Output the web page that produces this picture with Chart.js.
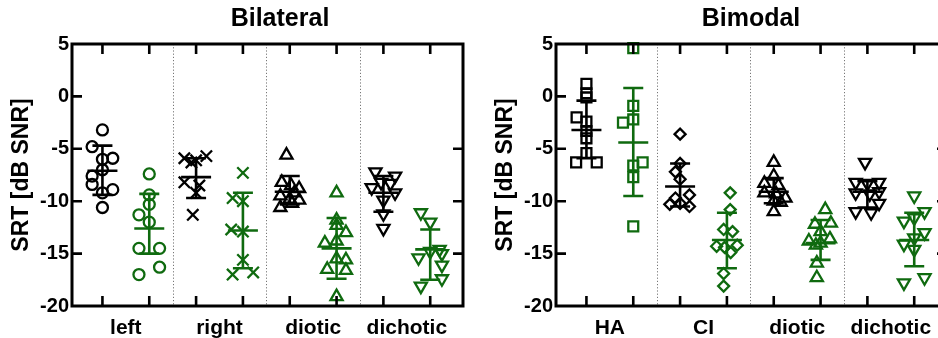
<!DOCTYPE html>
<html><head><meta charset="utf-8">
<script src="https://cdn.jsdelivr.net/npm/chart.js@4/dist/chart.umd.min.js"></script>
<style>
html,body{margin:0;padding:0;width:938px;height:338px;overflow:hidden;background:#fff;}
#w1{position:absolute;left:0;top:0;width:560px;height:338px;}
#w2{position:absolute;left:484px;top:0;width:534px;height:338px;}
</style></head><body>
<div id="w1"><canvas id="c1"></canvas></div>
<div id="w2"><canvas id="c2"></canvas></div>
<script>
// ---------- DATA ----------
const titleLeft = 'Bilateral';
const titleRight = 'Bimodal';
const yTitle = 'SRT [dB SNR]';
const catsBilateral = ['left', 'right', 'diotic', 'dichotic'];
const catsBimodal = ['HA', 'CI', 'diotic', 'dichotic'];
const yTicks = [5, 0, -5, -10, -15, -20];

// Bilateral individual points (value) and horizontal jitter (category units)
const bilLeftA = [-3.2, -4.8, -5.9, -6.0, -7.0, -7.6, -8.4, -8.9, -9.2, -10.6];
const bilLeftAJ = [0, -0.22, 0.22, 0, 0, -0.22, -0.22, 0.22, 0, 0];
const bilLeftB = [-7.4, -9.4, -10.3, -11.3, -12.0, -14.5, -14.5, -16.3, -17.0];
const bilLeftBJ = [0, 0, 0, -0.22, 0, -0.22, 0.22, 0.22, -0.22];
const bilRightA = [-5.7, -5.9, -6.1, -6.3, -8.2, -8.5, -9.2, -11.3];
const bilRightAJ = [0.22, -0.25, 0, -0.1, -0.25, 0.07, 0, -0.07];
const bilRightB = [-7.3, -9.7, -10.0, -12.7, -12.9, -15.6, -16.8, -17.0];
const bilRightBJ = [0, -0.22, 0, -0.25, 0, 0, 0.22, -0.22];
const bilDioticA = [-5.6, -8.2, -8.5, -8.8, -9.2, -9.5, -9.8, -9.9, -10.2, -10.6];
const bilDioticAJ = [-0.07, -0.17, 0.03, 0.2, 0.1, -0.2, 0, 0.2, 0.05, -0.2];
const bilDioticB = [-9.2, -11.8, -12.3, -13.0, -13.8, -14.0, -15.5, -15.6, -16.5, -16.6, -19.1];
const bilDioticBJ = [0, 0, 0, 0.2, 0, -0.25, 0, 0.2, -0.2, 0.2, 0];
const bilDichA = [-7.2, -7.6, -8.2, -8.3, -8.7, -9.2, -9.9, -11.2, -12.6];
const bilDichAJ = [-0.17, 0.25, -0.05, 0.15, -0.25, 0.25, 0, 0, 0];
const bilDichB = [-11.1, -12.0, -14.6, -14.8, -15.0, -15.4, -16.1, -17.4, -18.1];
const bilDichBJ = [-0.2, 0, 0.2, 0, 0.25, -0.25, 0.25, 0.25, -0.2];
// Bilateral summary (centre line and whiskers) per position 0..7
const bilCenter = [-7.1, -12.6, -7.7, -12.8, -9.1, -14.5, -9.2, -14.6];
const bilLow = [-9.4, -15.0, -9.7, -16.4, -10.3, -17.4, -11.0, -17.5];
const bilHigh = [-4.7, -9.3, -5.9, -9.2, -7.6, -11.6, -7.6, -12.7];

// Bimodal individual points
const bimHAA = [1.2, 0.3, -0.1, -2.0, -2.4, -3.3, -4.0, -5.4, -6.3, -6.3];
const bimHAAJ = [0, 0, 0, -0.21, 0, 0, 0, 0, -0.22, 0.22];
const bimHAB = [4.6, -0.9, -2.2, -2.5, -6.3, -6.6, -7.7, -12.4];
const bimHABJ = [0, 0, 0, -0.22, 0.2, 0, 0, 0];
const bimCIA = [-3.6, -6.4, -7.2, -7.9, -9.4, -9.7, -10.2, -10.3, -10.5];
const bimCIAJ = [0, 0, -0.1, 0, 0.2, -0.1, 0, -0.22, 0.2];
const bimCIB = [-9.2, -10.8, -12.7, -12.9, -14.2, -14.3, -14.4, -14.9, -16.9, -18.1];
const bimCIBJ = [0.07, 0.07, -0.07, 0.12, 0.22, -0.22, -0.05, 0.08, -0.07, -0.07];
const bimDioticA = [-6.3, -7.6, -8.3, -8.5, -9.2, -9.3, -9.7, -10.0, -10.1, -11.0];
const bimDioticAJ = [0, 0, -0.2, 0.1, -0.2, 0.05, 0.25, 0, 0.15, 0];
const bimDioticB = [-10.8, -12.1, -12.2, -12.9, -13.6, -13.8, -14.0, -14.2, -15.9, -17.3];
const bimDioticBJ = [0.1, 0.22, -0.12, 0, 0.2, -0.25, 0, -0.1, -0.08, -0.08];
const bimDichA = [-6.3, -8.2, -8.3, -8.2, -9.2, -9.3, -9.1, -10.2, -11.0, -11.1];
const bimDichAJ = [-0.05, -0.25, 0, 0.25, -0.25, 0.05, 0.25, 0.25, -0.25, 0.08];
const bimDichB = [-9.5, -11.0, -11.6, -11.9, -13.0, -13.5, -14.1, -14.6, -17.3, -17.8];
const bimDichBJ = [0, 0.22, 0, -0.22, 0.22, 0, -0.22, 0, 0.22, -0.22];
const bimCenter = [-3.2, -4.4, -8.6, -13.7, -9.1, -14.0, -9.1, -13.7];
const bimLow = [-5.9, -9.5, -10.5, -16.4, -10.2, -15.6, -10.6, -16.2];
const bimHigh = [-0.4, 0.8, -6.4, -11.1, -7.8, -11.8, -8.1, -11.1];

// ---------- STYLE ----------
const BLACK = '#000000';
const GREEN = '#0f6a0f';
const FONT = '"Liberation Sans", Arial, Helvetica, sans-serif';
Chart.defaults.font.family = FONT;
Chart.defaults.color = '#000';

function ds(vals, jit, pos, color, style, radius, rotation) {
  return {
    data: vals.map((v, i) => ({ x: pos + jit[i], y: v })),
    borderColor: color, backgroundColor: 'rgba(0,0,0,0)',
    pointStyle: style, pointRadius: radius, pointRotation: rotation || 0,
    pointBorderWidth: 2.3, pointHoverRadius: radius, showLine: false, clip: false
  };
}

const framePlugin = {
  id: 'frame',
  beforeDatasetsDraw(chart) {
    const { ctx, chartArea: a, scales: { x } } = chart;
    ctx.save();
    ctx.strokeStyle = '#777'; ctx.lineWidth = 1; ctx.setLineDash([1.2, 2]);
    [1.5, 3.5, 5.5].forEach(s => {
      const px = Math.round(x.getPixelForValue(s)) + 0.5;
      ctx.beginPath(); ctx.moveTo(px, a.top); ctx.lineTo(px, a.bottom); ctx.stroke();
    });
    ctx.restore();
  },
  afterDatasetsDraw(chart, args, opts) {
    const { ctx, scales: { x, y } } = chart;
    ctx.save();
    ctx.lineWidth = 2.6; ctx.setLineDash([]);
    opts.center.forEach((c, i) => {
      const col = i % 2 === 0 ? BLACK : GREEN;
      const px = x.getPixelForValue(i);
      const pc = y.getPixelForValue(c), pl = y.getPixelForValue(opts.low[i]), ph = y.getPixelForValue(opts.high[i]);
      ctx.strokeStyle = col;
      ctx.beginPath();
      ctx.moveTo(px, ph); ctx.lineTo(px, pl);
      ctx.moveTo(px - 10, ph); ctx.lineTo(px + 10, ph);
      ctx.moveTo(px - 10, pl); ctx.lineTo(px + 10, pl);
      ctx.moveTo(px - 15, pc); ctx.lineTo(px + 15, pc);
      ctx.stroke();
    });
    ctx.restore();
  },
  afterDraw(chart) {
    const { ctx, chartArea: a, scales: { x, y } } = chart;
    ctx.save();
    ctx.strokeStyle = '#000'; ctx.lineWidth = 3; ctx.setLineDash([]);
    ctx.strokeRect(a.left, a.top, a.right - a.left, a.bottom - a.top);
    ctx.lineWidth = 2.6;
    ctx.beginPath();
    for (let i = 0; i < 8; i++) {
      const px = x.getPixelForValue(i);
      ctx.moveTo(px, a.bottom); ctx.lineTo(px, a.bottom - 10);
      ctx.moveTo(px, a.top); ctx.lineTo(px, a.top + 10);
    }
    [0, -5, -10, -15].forEach(v => {
      const py = y.getPixelForValue(v);
      ctx.moveTo(a.left, py); ctx.lineTo(a.left + 10, py);
    });
    [-5, -10, -15].forEach(v => {
      const py = y.getPixelForValue(v);
      ctx.moveTo(a.right, py); ctx.lineTo(a.right - 10, py);
    });
    ctx.stroke();
    ctx.restore();
  }
};

function makeChart(id, title, cats, datasets, center, low, high, rightSpace) {
  return new Chart(document.getElementById(id), {
    type: 'scatter',
    data: { datasets },
    plugins: [framePlugin],
    options: {
      responsive: true, maintainAspectRatio: false, animation: false,
      layout: { padding: 0 },
      events: [],
      plugins: {
        legend: { display: false }, tooltip: { enabled: false },
        title: { display: true, text: title, color: '#000', font: { size: 25, weight: 'bold' }, padding: { top: 4, bottom: 10 } },
        frame: { center, low, high }
      },
      scales: {
        x: {
          type: 'linear', min: -0.65, max: 7.7,
          grid: { display: false, drawTicks: false }, border: { display: false },
          afterBuildTicks: s => { s.ticks = [0.5, 2.5, 4.5, 6.5].map(v => ({ value: v })); },
          afterFit: s => { s.height = 32; },
          ticks: { autoSkip: false, maxRotation: 0, padding: 10, color: '#000', font: { size: 21, weight: 'bold' },
            callback: v => cats[Math.round((v - 0.5) / 2)] }
        },
        y: {
          min: -20, max: 5,
          grid: { display: false, drawTicks: false }, border: { display: false },
          afterBuildTicks: s => { s.ticks = yTicks.map(v => ({ value: v })); },
          afterFit: s => { s.width = 72; },
          ticks: { padding: 3, color: '#000', font: { size: 20, weight: 'bold' } },
          title: { display: true, text: yTitle, color: '#000', font: { size: 23, weight: 'bold' }, padding: { top: 8, bottom: 0 } }
        },
        yr: {
          position: 'right', min: 0, max: 1,
          grid: { display: false, drawTicks: false }, border: { display: false },
          ticks: { display: false },
          afterFit: s => { s.width = rightSpace; }
        }
      }
    }
  });
}

const bilData = [
  ds(bilLeftA, bilLeftAJ, 0, BLACK, 'circle', 5.5),
  ds(bilLeftB, bilLeftBJ, 1, GREEN, 'circle', 5.5),
  ds(bilRightA, bilRightAJ, 2, BLACK, 'crossRot', 8),
  ds(bilRightB, bilRightBJ, 3, GREEN, 'crossRot', 8),
  ds(bilDioticA, bilDioticAJ, 4, BLACK, 'triangle', 7),
  ds(bilDioticB, bilDioticBJ, 5, GREEN, 'triangle', 7),
  ds(bilDichA, bilDichAJ, 6, BLACK, 'triangle', 7, 180),
  ds(bilDichB, bilDichBJ, 7, GREEN, 'triangle', 7, 180)
];
const bimData = [
  ds(bimHAA, bimHAAJ, 0, BLACK, 'rect', 7),
  ds(bimHAB, bimHABJ, 1, GREEN, 'rect', 7),
  ds(bimCIA, bimCIAJ, 2, BLACK, 'rectRot', 5.5),
  ds(bimCIB, bimCIBJ, 3, GREEN, 'rectRot', 5.5),
  ds(bimDioticA, bimDioticAJ, 4, BLACK, 'triangle', 7),
  ds(bimDioticB, bimDioticBJ, 5, GREEN, 'triangle', 7),
  ds(bimDichA, bimDichAJ, 6, BLACK, 'triangle', 7, 180),
  ds(bimDichB, bimDichBJ, 7, GREEN, 'triangle', 7, 180)
];

makeChart('c1', titleLeft, catsBilateral, bilData, bilCenter, bilLow, bilHigh, 97);
makeChart('c2', titleRight, catsBimodal, bimData, bimCenter, bimLow, bimHigh, 71);
</script>
</body></html>
